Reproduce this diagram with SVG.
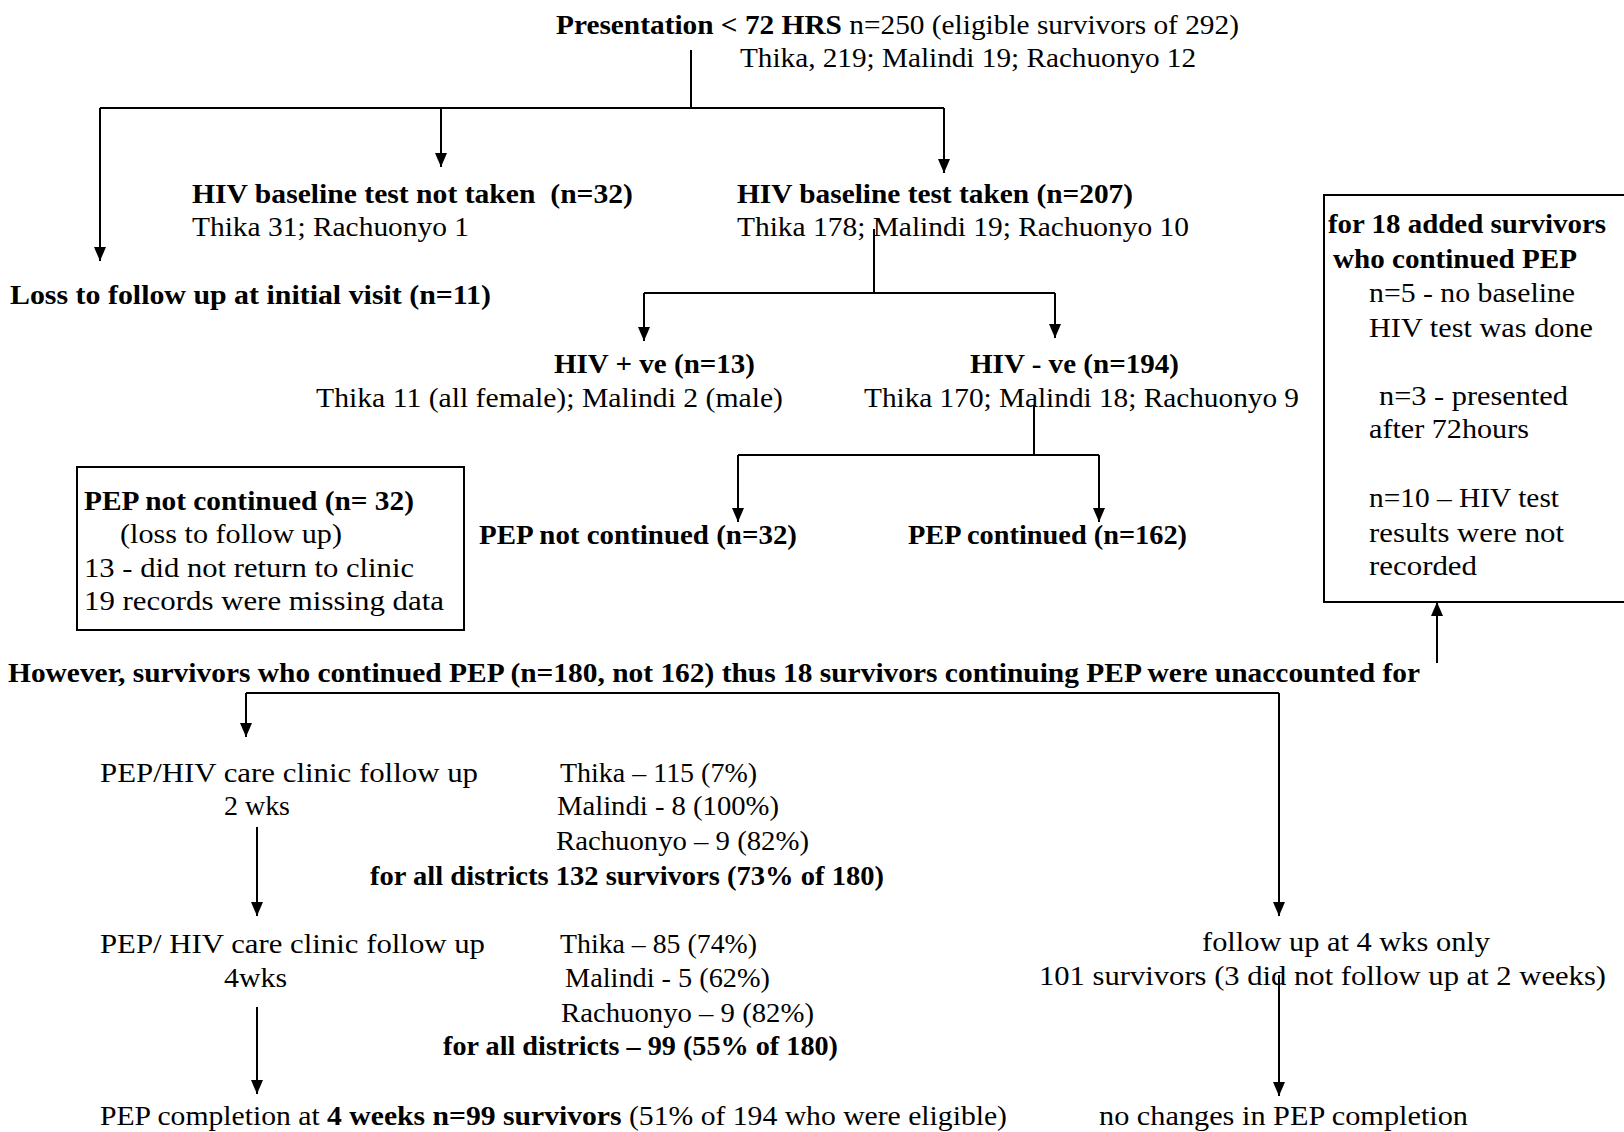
<svg xmlns="http://www.w3.org/2000/svg" width="1624" height="1132" viewBox="0 0 1624 1132">
<style>
text{font-family:"Liberation Serif","Times New Roman",serif;font-size:28px;fill:#000}
.b{font-weight:bold}
.ln{fill:none;stroke:#000;stroke-width:2}
.ar{fill:none;stroke:#000;stroke-width:2;marker-end:url(#ah)}
.bx{fill:none;stroke:#000;stroke-width:2}
</style>
<defs>
<marker id="ah" viewBox="0 0 14 12" refX="14" refY="6" markerWidth="14" markerHeight="12" markerUnits="userSpaceOnUse" orient="auto">
<path d="M0,0 L14,6 L0,12 z" fill="#000"/>
</marker>
</defs>
<rect width="1624" height="1132" fill="#fff"/>
<g id="connectors">
<path class="ln" d="M691,50 V108"/>
<path class="ln" d="M100,108 H944"/>
<path class="ar" d="M100,108 V261"/>
<path class="ar" d="M441,108 V167"/>
<path class="ar" d="M944,108 V173"/>
<path class="ln" d="M874,229 V293"/>
<path class="ln" d="M644,293 H1055"/>
<path class="ar" d="M644,293 V341"/>
<path class="ar" d="M1055,293 V338"/>
<path class="ln" d="M1034,405 V455"/>
<path class="ln" d="M738,455 H1099"/>
<path class="ar" d="M738,455 V522"/>
<path class="ar" d="M1099,455 V522"/>
<path class="ar" d="M1437,663 V602"/>
<path class="ln" d="M246,693 H1279"/>
<path class="ar" d="M246,693 V737"/>
<path class="ar" d="M1279,693 V916"/>
<path class="ar" d="M257,827 V916"/>
<path class="ar" d="M257,1007 V1094"/>
<path class="ar" d="M1279,975 V1096"/>
</g>
<g id="presentation">
<text x="556" y="34" textLength="683" lengthAdjust="spacingAndGlyphs"><tspan class="b">Presentation &lt; 72 HRS</tspan> n=250 (eligible survivors of 292)</text>
<text x="740" y="67" textLength="456" lengthAdjust="spacingAndGlyphs">Thika, 219; Malindi 19; Rachuonyo 12</text>
</g>
<g id="not-taken">
<text class="b" x="192" y="203" textLength="441" lengthAdjust="spacingAndGlyphs">HIV baseline test not taken&#160; (n=32)</text>
<text x="192" y="236" textLength="277" lengthAdjust="spacingAndGlyphs">Thika 31; Rachuonyo 1</text>
</g>
<g id="taken">
<text class="b" x="737" y="203" textLength="396" lengthAdjust="spacingAndGlyphs">HIV baseline test taken (n=207)</text>
<text x="737" y="236" textLength="452" lengthAdjust="spacingAndGlyphs">Thika 178; Malindi 19; Rachuonyo 10</text>
</g>
<g id="loss">
<text class="b" x="10" y="304" textLength="481" lengthAdjust="spacingAndGlyphs">Loss to follow up at initial visit (n=11)</text>
</g>
<g id="hiv-pos">
<text class="b" x="554" y="373" textLength="201" lengthAdjust="spacingAndGlyphs">HIV + ve (n=13)</text>
<text x="316" y="407" textLength="467" lengthAdjust="spacingAndGlyphs">Thika 11 (all female); Malindi 2 (male)</text>
</g>
<g id="hiv-neg">
<text class="b" x="970" y="373" textLength="209" lengthAdjust="spacingAndGlyphs">HIV - ve (n=194)</text>
<text x="864" y="407" textLength="435" lengthAdjust="spacingAndGlyphs">Thika 170; Malindi 18; Rachuonyo 9</text>
</g>
<g id="pep-not">
<text class="b" x="479" y="544" textLength="318" lengthAdjust="spacingAndGlyphs">PEP not continued (n=32)</text>
</g>
<g id="pep-cont">
<text class="b" x="908" y="544" textLength="279" lengthAdjust="spacingAndGlyphs">PEP continued (n=162)</text>
</g>
<g id="pep-not-box">
<rect class="bx" x="77" y="467" width="387" height="163"/>
<text class="b" x="84" y="510" textLength="330" lengthAdjust="spacingAndGlyphs">PEP not continued (n= 32)</text>
<text x="120" y="543" textLength="222" lengthAdjust="spacingAndGlyphs">(loss to follow up)</text>
<text x="84" y="577" textLength="330" lengthAdjust="spacingAndGlyphs">13 - did not return to clinic</text>
<text x="84" y="610" textLength="360" lengthAdjust="spacingAndGlyphs">19 records were missing data</text>
</g>
<g id="added-box">
<path class="bx" d="M1625,195 H1324 V602 H1625"/>
<text class="b" x="1328" y="233" textLength="278" lengthAdjust="spacingAndGlyphs">for 18 added survivors</text>
<text class="b" x="1333" y="268" textLength="244" lengthAdjust="spacingAndGlyphs">who continued PEP</text>
<text x="1369" y="302" textLength="206" lengthAdjust="spacingAndGlyphs">n=5 - no baseline</text>
<text x="1369" y="337" textLength="224" lengthAdjust="spacingAndGlyphs">HIV test was done</text>
<text x="1379" y="405" textLength="189" lengthAdjust="spacingAndGlyphs">n=3 - presented</text>
<text x="1369" y="438" textLength="160" lengthAdjust="spacingAndGlyphs">after 72hours</text>
<text x="1369" y="507" textLength="190" lengthAdjust="spacingAndGlyphs">n=10 – HIV test</text>
<text x="1369" y="542" textLength="195" lengthAdjust="spacingAndGlyphs">results were not</text>
<text x="1369" y="575" textLength="108" lengthAdjust="spacingAndGlyphs">recorded</text>
</g>
<g id="however">
<text class="b" x="8" y="682" textLength="1412" lengthAdjust="spacingAndGlyphs">However, survivors who continued PEP (n=180, not 162) thus 18 survivors continuing PEP were unaccounted for</text>
</g>
<g id="fu-2wks">
<text x="100" y="782" textLength="378" lengthAdjust="spacingAndGlyphs">PEP/HIV care clinic follow up</text>
<text x="224" y="815" textLength="66" lengthAdjust="spacingAndGlyphs">2 wks</text>
<text x="560" y="782" textLength="197" lengthAdjust="spacingAndGlyphs">Thika – 115 (7%)</text>
<text x="557" y="815" textLength="222" lengthAdjust="spacingAndGlyphs">Malindi - 8 (100%)</text>
<text x="556" y="850" textLength="253" lengthAdjust="spacingAndGlyphs">Rachuonyo – 9 (82%)</text>
<text class="b" x="370" y="885" textLength="514" lengthAdjust="spacingAndGlyphs">for all districts 132 survivors (73% of 180)</text>
</g>
<g id="fu-4wks">
<text x="100" y="953" textLength="385" lengthAdjust="spacingAndGlyphs">PEP/ HIV care clinic follow up</text>
<text x="224" y="987" textLength="63" lengthAdjust="spacingAndGlyphs">4wks</text>
<text x="560" y="953" textLength="197" lengthAdjust="spacingAndGlyphs">Thika – 85 (74%)</text>
<text x="565" y="987" textLength="205" lengthAdjust="spacingAndGlyphs">Malindi - 5 (62%)</text>
<text x="561" y="1022" textLength="253" lengthAdjust="spacingAndGlyphs">Rachuonyo – 9 (82%)</text>
<text class="b" x="443" y="1055" textLength="395" lengthAdjust="spacingAndGlyphs">for all districts – 99 (55% of 180)</text>
</g>
<g id="completion">
<text x="100" y="1125" textLength="907" lengthAdjust="spacingAndGlyphs">PEP completion at <tspan class="b">4 weeks n=99 survivors</tspan> (51% of 194 who were eligible)</text>
</g>
<g id="fu-4only">
<text x="1202" y="951" textLength="288" lengthAdjust="spacingAndGlyphs">follow up at 4 wks only</text>
<text x="1039" y="985" textLength="567" lengthAdjust="spacingAndGlyphs">101 survivors (3 did not follow up at 2 weeks)</text>
</g>
<g id="no-changes">
<text x="1099" y="1125" textLength="369" lengthAdjust="spacingAndGlyphs">no changes in PEP completion</text>
</g>
</svg>
